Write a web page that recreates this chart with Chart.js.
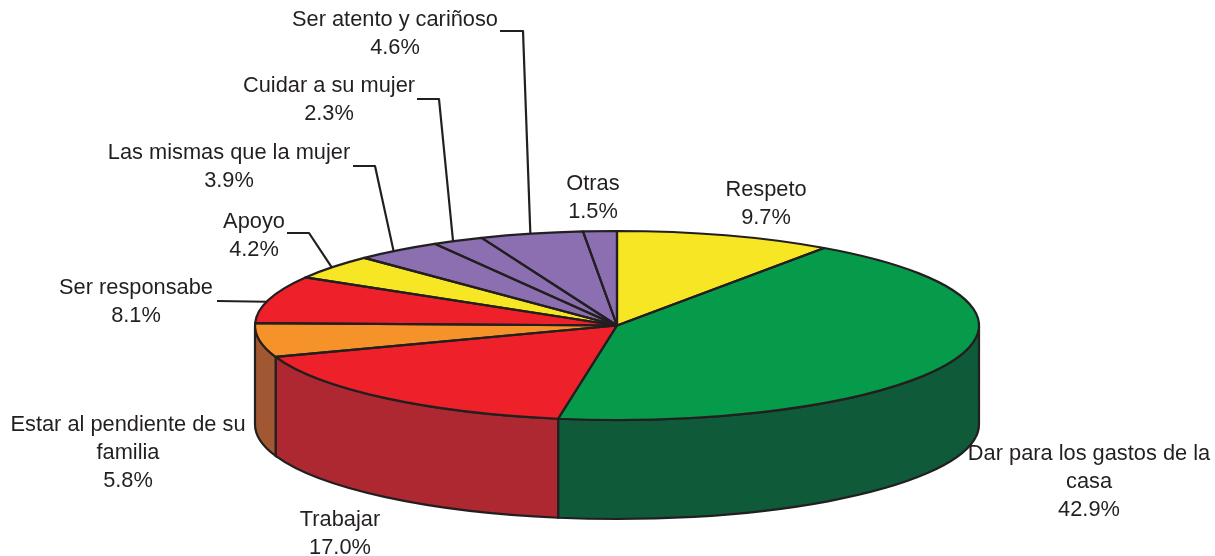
<!DOCTYPE html>
<html>
<head>
<meta charset="utf-8">
<title>Pie</title>
<script src="https://cdn.jsdelivr.net/npm/chart.js@4"></script>
<style>
    html, body { margin: 0; padding: 0; background: #fff; }
    canvas { display: block; }
</style>
</head>
<body>
<canvas id="pieChart" width="1215" height="556"></canvas>
<script>
// Chart values
const categories = [
    ['Respeto'],
    ['Dar para los gastos de la', 'casa'],
    ['Trabajar'],
    ['Estar al pendiente de su', 'familia'],
    ['Ser responsabe'],
    ['Apoyo'],
    ['Las mismas que la mujer'],
    ['Cuidar a su mujer'],
    ['Ser atento y cariñoso'],
    ['Otras']
];
const shares = [9.7, 42.9, 17.0, 5.8, 8.1, 4.2, 3.9, 2.3, 4.6, 1.5];

// Colours
const topColors = ['#f7e623', '#069a4b', '#ee2029', '#f6922a', '#ee2029', '#f7e623', '#8b6fb0', '#8b6fb0', '#8b6fb0', '#8b6fb0'];
const sideColors = ['#b3a61a', '#0f5a39', '#ad2830', '#a15732', '#ad2830', '#b3a61a', '#65507f', '#65507f', '#65507f', '#65507f'];
const lineColor = '#231f20';
const lineWidth = 2.2;

// Layout of the tilted disc
const disc = { cx: 617, cy: 325.5, rx: 362, ry: 94.5, depth: 99 };

// Where the first line of each label is centred
const labelX = [766, 1089, 340, 128, 136, 254, 229, 329, 395, 593];
const labelY = [190, 454, 520, 425, 288, 222, 153, 86, 20, 184];
const lineGap = 28;

// Leader lines: slice index, where along the slice it starts, elbow and end
const leaders = [
    { slice: 4, along: 0.45, elbowX: 217, elbowY: 301, endX: 217 },
    { slice: 5, along: 0.49, elbowX: 309, elbowY: 233, endX: 287 },
    { slice: 6, along: 0.44, elbowX: 375, elbowY: 166, endX: 353 },
    { slice: 7, along: 0.40, elbowX: 439, elbowY: 99, endX: 417 },
    { slice: 8, along: 0.49, elbowX: 523, elbowY: 31, endX: 500 }
];

// Squashes the library's pie into an ellipse and adds the wall, outlines and labels
const tiltPlugin = {
    id: 'tilt',
    beforeDatasetsDraw(chart) {
        const ctx = chart.ctx;
        const arcs = chart.getDatasetMeta(0).data;

        // Wall first, only the front half can be seen
        arcs.forEach((arc, i) => {
            const from = Math.max(arc.startAngle, 0);
            const to = Math.min(arc.endAngle, Math.PI);
            if (from >= to) return;
            ctx.beginPath();
            ctx.ellipse(disc.cx, disc.cy, disc.rx, disc.ry, 0, from, to);
            ctx.ellipse(disc.cx, disc.cy + disc.depth, disc.rx, disc.ry, 0, to, from, true);
            ctx.closePath();
            ctx.fillStyle = sideColors[i];
            ctx.fill();
            ctx.lineWidth = lineWidth;
            ctx.strokeStyle = lineColor;
            ctx.stroke();
        });

        const r = arcs[0].outerRadius;
        ctx.save();
        ctx.translate(disc.cx, disc.cy);
        ctx.scale(disc.rx / r, disc.ry / r);
        ctx.translate(-arcs[0].x, -arcs[0].y);
    },
    afterDatasetsDraw(chart) {
        const ctx = chart.ctx;
        ctx.restore();
        const arcs = chart.getDatasetMeta(0).data;

        ctx.lineWidth = lineWidth;
        ctx.strokeStyle = lineColor;
        ctx.lineJoin = 'round';
        arcs.forEach((arc) => {
            ctx.beginPath();
            ctx.moveTo(disc.cx, disc.cy);
            ctx.ellipse(disc.cx, disc.cy, disc.rx, disc.ry, 0, arc.startAngle, arc.endAngle);
            ctx.closePath();
            ctx.stroke();
        });

        leaders.forEach((l) => {
            const arc = arcs[l.slice];
            const a = arc.startAngle + (arc.endAngle - arc.startAngle) * l.along;
            ctx.beginPath();
            ctx.moveTo(disc.cx + disc.rx * Math.cos(a), disc.cy + disc.ry * Math.sin(a));
            ctx.lineTo(l.elbowX, l.elbowY);
            ctx.lineTo(l.endX, l.elbowY);
            ctx.stroke();
        });

        ctx.font = '21.8px "Liberation Sans", Arial, sans-serif';
        ctx.fillStyle = lineColor;
        ctx.textAlign = 'center';
        ctx.textBaseline = 'middle';
        categories.forEach((lines, i) => {
            const text = lines.concat(shares[i].toFixed(1) + '%');
            text.forEach((t, n) => ctx.fillText(t, labelX[i], labelY[i] + n * lineGap));
        });
    }
};

new Chart(document.getElementById('pieChart').getContext('2d'), {
    type: 'pie',
    data: {
        labels: categories.map((c) => c.join(' ')),
        datasets: [{
            data: shares,
            backgroundColor: topColors,
            borderWidth: 0
        }]
    },
    options: {
        responsive: false,
        animation: false,
        plugins: {
            legend: { display: false },
            tooltip: { enabled: false }
        }
    },
    plugins: [tiltPlugin]
});
</script>
</body>
</html>
